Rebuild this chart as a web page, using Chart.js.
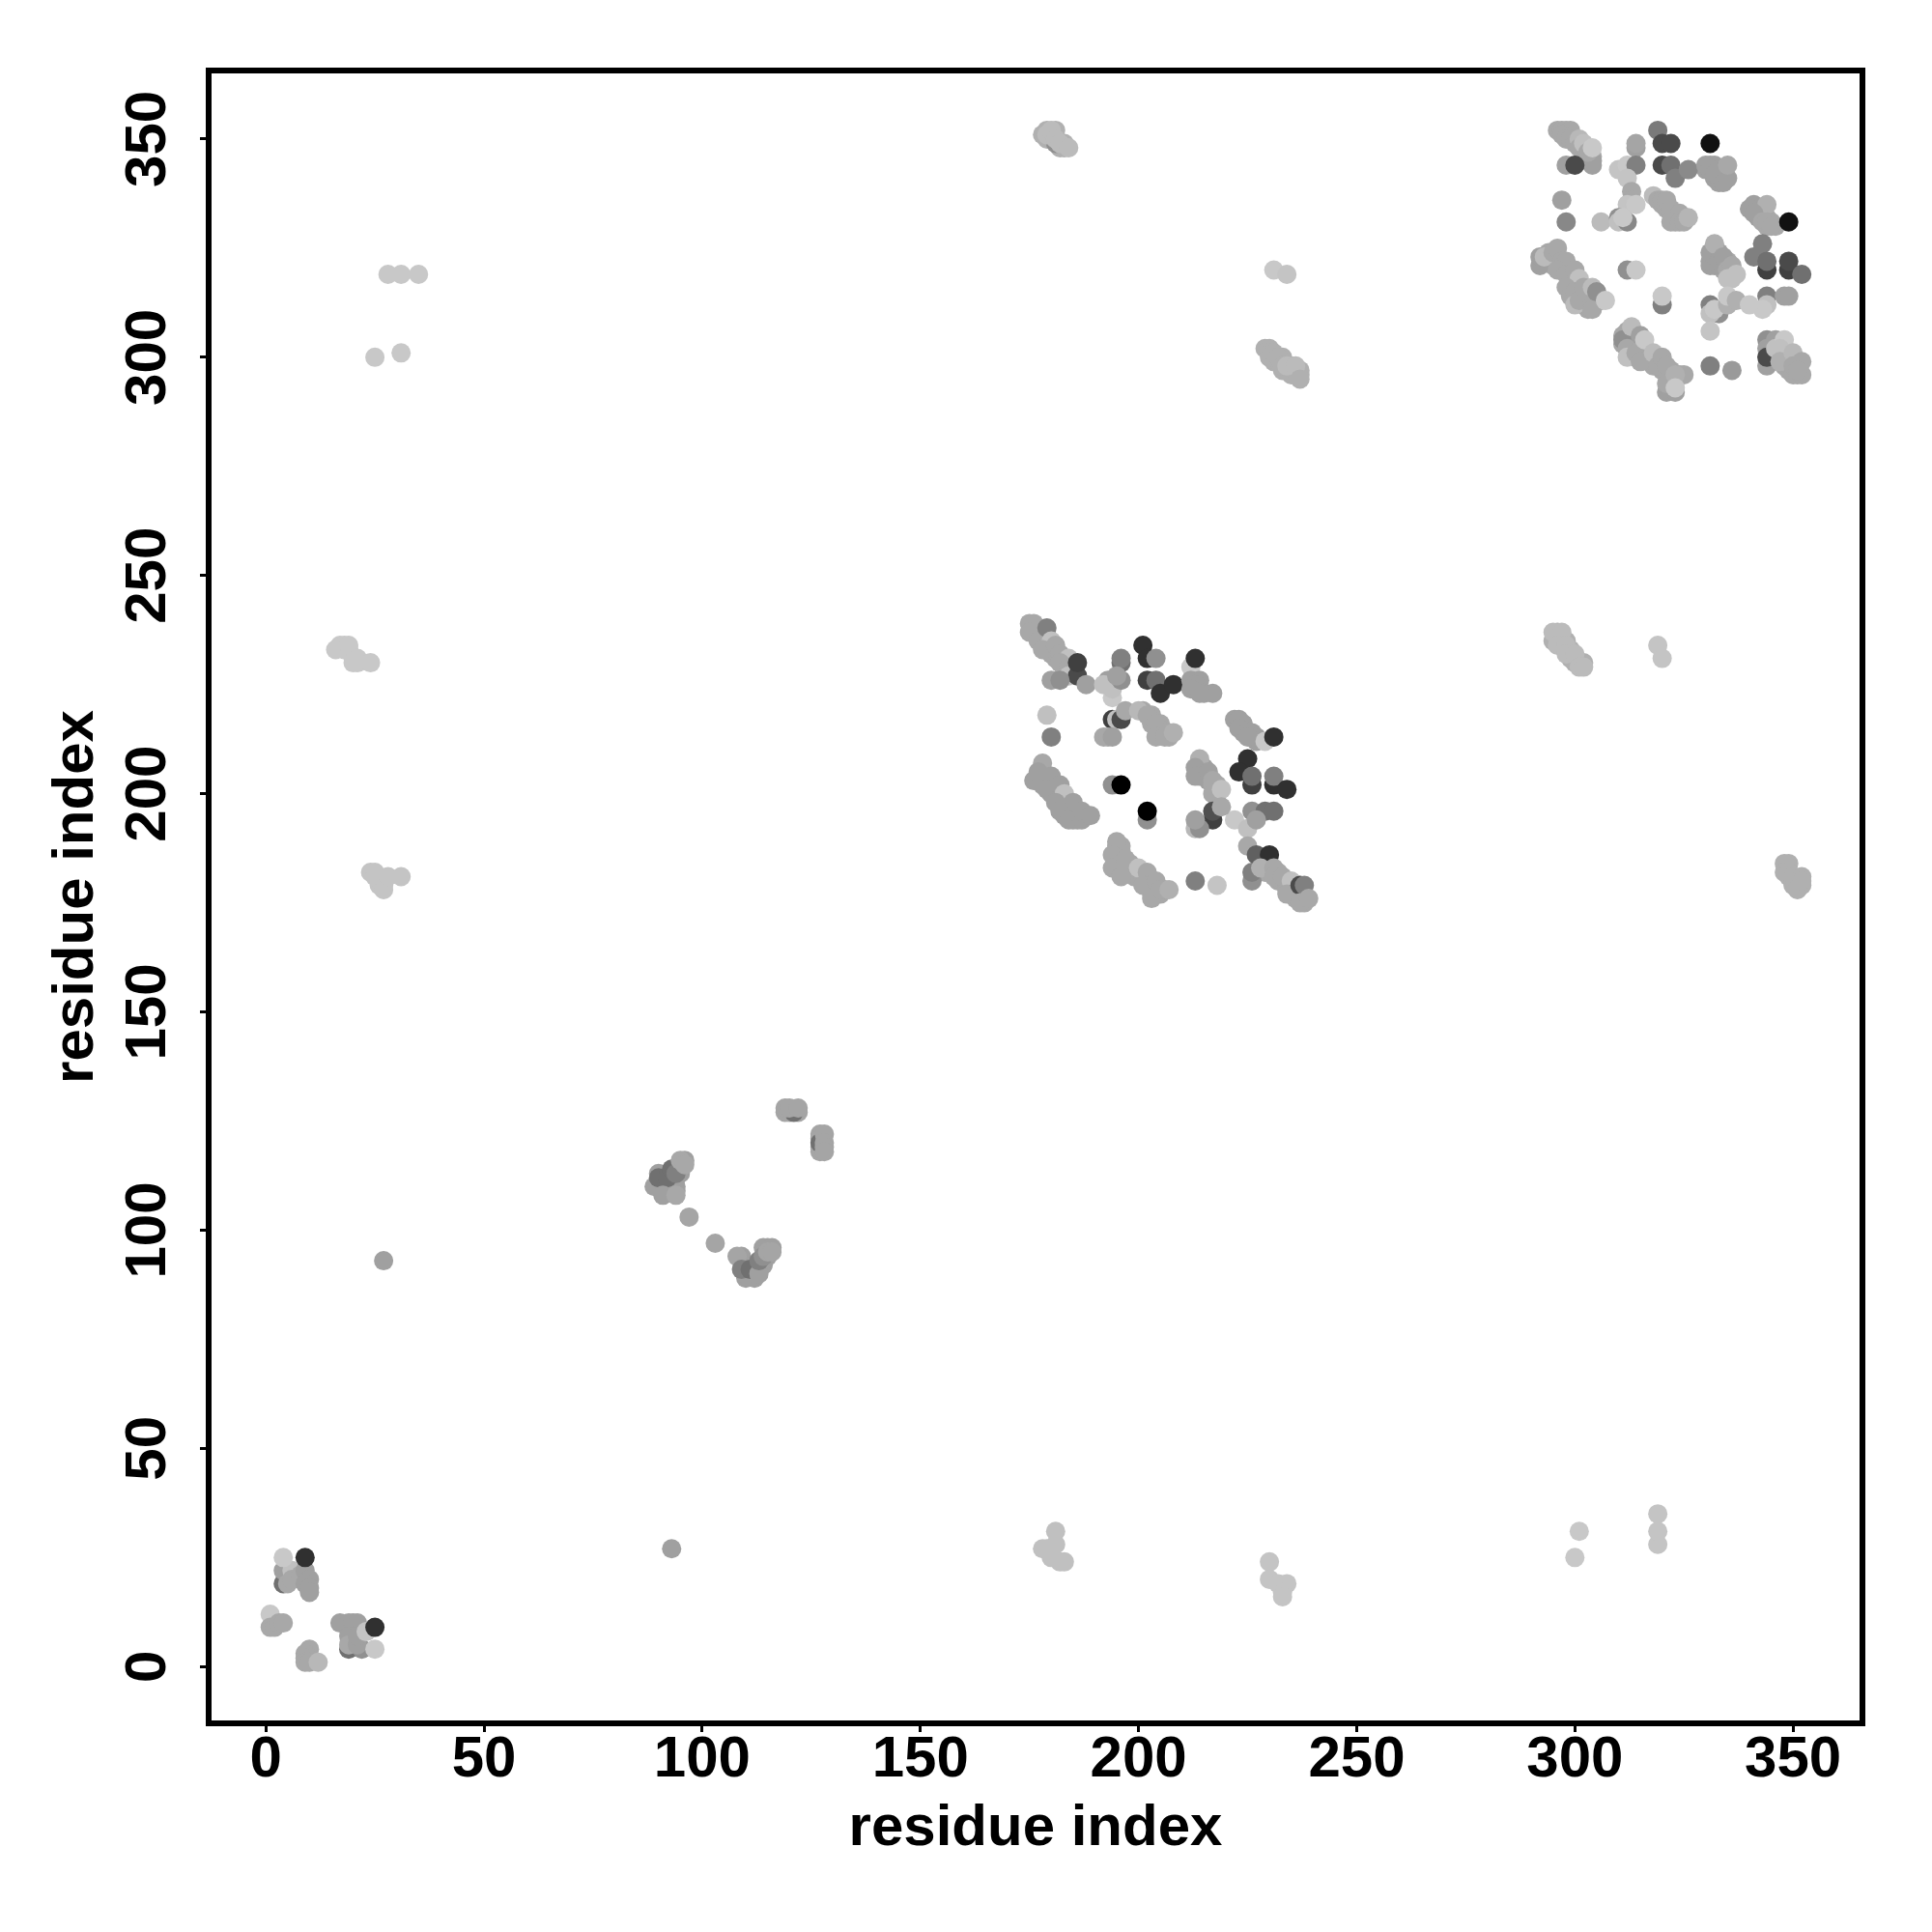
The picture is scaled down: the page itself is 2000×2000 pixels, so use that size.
<!DOCTYPE html>
<html lang="en">
<head>
  <meta charset="utf-8">
  <title>residue contacts</title>
  <script src="https://cdn.jsdelivr.net/npm/chart.js"></script>
  <style>
    body { margin: 0; background: #fff; }
  </style>
</head>
<body>
<canvas id="contactChart" width="2000" height="2000"></canvas>

<script>
// tick labels
const tickValues = [0, 50, 100, 150, 200, 250, 300, 350];
const axisLabel = 'residue index';

// each contact: [residue x, residue y, gray level]
// mid gray contacts packed inside the bands, these go underneath the rest
const bandFill = [
  [178,351,176],[179,352,176],[181,352,176],[179,350,176],[180,350,176],[182,348,176],[183,348,176],[183,349,176],
  [229,302,176],[230,302,176],[231,299,176],[232,299,176],[233,300,176],[233,297,176],[234,297,176],[235,297,176],[235,296,176],[235,298,176],[236,297,176],[237,296,176],[237,297,176],
  [296,237,176],[296,236,176],[295,235,176],[296,235,176],[297,235,176],[298,235,176],[299,233,176],[299,231,176],[300,231,176],[300,230,176],[301,230,176],[302,230,176],
  [349,184,176],[349,181,176],[350,180,176],[351,180,176],[350,179,176],[351,179,176],[352,179,176],
  [26,180,196],[27,180,196],[26,179,196],[27,179,196],[17,234,200],[18,234,200],[19,233,200],[20,231,200],[21,230,200],
  [90,110,160],[91,110,160],[92,109,160],[93,109,160],[92,110,160],[94,110,160],[94,109,160],[93,111,160],[93,112,160],[94,112,160],[95,113,160],[95,114,160],[95,115,160],[96,116,160],
  [109,93,160],[109,94,160],[110,92,160],[111,90,160],[112,89,160],[111,92,160],[112,92,160],[113,92,160],[114,92,160],[114,93,160],[115,94,160],[114,96,160],[115,96,160],[116,96,160],
  [119,127,165],[120,127,165],[122,127,165],[127,122,165],[127,121,165],[127,119,165],[127,118,165],
  [195,188,168],[196,188,168],[196,187,168],[195,185,168],[195,184,168],[196,184,168],[197,183,168],[198,184,168],[198,182,168],[199,181,168],[199,183,168],[200,181,168],[201,181,168],[202,180,168],[203,180,168],[203,179,168],[204,178,168],[203,177,168],[204,177,168],[205,177,168],[206,178,168],
  [178,205,160],[178,204,160],[178,202,160],[179,203,160],[180,202,160],[180,200,160],[181,201,160],[181,200,160],[182,199,160],[183,198,160],[183,197,160],[184,197,160],[184,196,160],[185,196,160],[185,195,160],[186,195,160],[186,196,160],[187,195,160],[188,195,160],[183,195,160],[186,194,160],[185,194,160],
  [229,184,168],[229,182,168],[230,183,168],[232,182,168],[232,180,168],[233,180,168],[234,179,168],[234,178,168],[235,178,168],[236,177,168],[236,176,168],[238,176,168],[238,175,168],[237,177,168],
  [176,238,168],[177,237,168],[177,238,168],[178,236,168],[178,235,168],[179,234,168],[180,233,168],[180,232,168],[181,232,168],[181,231,168],[182,231,168],[183,230,168],[183,229,168],[184,230,168],[185,228,168],[183,228,168],[184,228,168],
  [201,219,168],[203,217,168],[203,218,168],[205,215,168],[205,216,168],[205,214,168],[207,213,168],[207,214,168],[203,216,168],
  [214,206,160],[214,204,160],[215,204,160],[215,206,160],[216,203,160],[217,202,168],[218,202,168],[218,201,168],[218,200,168],[214,205,160],
  [224,216,160],[224,214,160],[226,214,160],[227,212,160],[227,213,160],
  [311,303,168],[311,305,168],[312,304,168],[312,306,168],[313,303,168],[313,305,168],[314,303,168],[314,304,168],[314,300,168],[316,301,168],[316,300,168],[317,300,168],[317,299,168],[318,299,168],[318,298,168],[320,297,168],[320,298,168],[321,297,168],[322,297,168],[322,295,168],[322,293,168],[324,296,168],
  [293,322,168],[294,322,168],[294,324,168],[295,321,168],[295,323,168],[296,322,168],[297,320,168],[299,318,168],[299,320,168],[300,317,168],[301,316,168],[301,315,168],[302,314,168],[302,312,168],[303,315,168],[303,313,168],[303,311,168],[303,312,168],[305,313,168],[305,314,168],[306,313,168],
  [320,335,168],[321,334,168],[322,333,168],[323,333,168],[323,332,168],[323,331,168],[325,332,168],
  [332,324,160],[332,323,160],[332,321,160],[333,324,160],[334,321,168],[334,320,168],[335,322,168],[335,319,168],[336,320,168],[333,321,160],
  [342,334,160],[342,332,160],[342,333,160],[343,333,160],[344,332,168],[345,331,168],[344,330,168],[346,330,168],
  [330,343,160],[331,344,160],[332,344,160],[333,342,160],[334,342,160],[332,341,160],[333,340,160],
  [299,351,168],[300,350,168],[301,349,168],[302,348,168],[303,346,168],
  [346,300,168],[347,300,168],[348,299,168],[348,298,168],[349,299,168],[349,297,168],[350,296,168],[351,296,168],[351,299,168],[349,300,168],[348,302,168]
];
const cornerSW = [
  [4,19,112],[4,22,160],[5,19,168],[6,22,192],[4,25,200],[6,20,168],[8,21,168],[9,22,160],[10,20,160],[9,19,160],[10,18,160],[10,17,160],[9,25,48],
  [1,12,200],[1,9,168],[2,9,168],[3,10,168],[4,10,168],
  [10,4,168],[9,3,168],[9,2,168],[9,1,168],[10,1,168],[12,1,184],
  [19,4,112],[22,4,144],[17,10,160],[19,10,160],[20,10,160],[21,10,160],[19,7,160],[19,5,168],[21,5,160],[21,7,160],[23,8,196],[25,9,48],[25,4,200]
];
const offDiagLow = [
  [93,27,160],[178,27,192],[179,27,192],[181,31,192],[181,28,192],[180,25,192],[182,24,192],[183,24,192],
  [230,24,196],[230,20,196],[232,19,196],[234,19,196],[233,17,196],[233,16,196],
  [300,25,200],[301,31,200],[319,28,196],[319,31,196],[319,35,196]
];
const offDiagLeft = [
  [27,93,160],[28,319,200],[31,319,200],[35,319,200],[25,300,200],[31,301,200],
  [16,233,200],[18,233,200],[19,234,200],[20,230,200],[21,231,200],[24,230,200],
  [24,182,196],[25,182,196],[25,181,196],[27,178,196],[28,181,196],[31,181,196]
];
const helixPairs = [
  [89,110,160],[90,113,160],[90,112,112],[92,112,112],[93,114,112],[91,108,160],[94,113,128],[94,108,168],[95,116,168],[96,115,168],
  [97,103,165],[103,97,165],
  [108,94,165],[110,89,160],[110,90,160],[109,91,128],[111,91,112],[113,90,160],[113,93,128],[114,94,144],[115,95,165],[116,95,165],
  [121,127,112],[119,128,165],[120,128,165],[122,128,165],
  [127,120,112],[128,122,165],[128,120,165],[128,119,165],[128,118,165]
];
const centerBlock = [
  [179,236,112],[175,239,168],[176,239,168],[175,237,168],[177,235,168],[179,238,128],[180,235,192],[178,233,168],[181,234,168],[182,232,168],[184,231,192],[182,230,168],[184,229,168],[184,227,192],
  [186,227,74],[186,230,64],[180,226,160],[182,226,144],[188,225,160],
  [196,230,112],[196,231,128],[201,234,48],[202,231,48],[204,231,144],
  [202,226,64],[204,226,112],[205,223,48],[208,225,48],
  [212,229,200],[213,231,48],[212,226,160],[214,226,160],[213,225,160],[212,224,160],[215,223,160],[217,223,160],[214,223,160],
  [193,226,160],[192,225,192],[194,222,200],[194,224,192],[196,226,144],[195,227,160],
  [179,218,192],[180,213,128],
  [194,217,64],[195,217,192],[196,217,74],[197,219,168],[192,213,168],[193,213,168],[194,213,160],
  [200,219,184],[202,218,168],[204,216,168],[206,214,168],[204,213,168],[206,213,168],[208,214,176],
  [222,217,160],[223,217,160],[223,215,160],[225,214,160],[226,213,160],[225,213,160],[229,212,200],[231,213,48],
  [225,208,48],[223,205,48],[226,202,64],[226,204,112],[231,202,48],[231,204,128],[234,201,48],
  [226,196,144],[229,196,112],[231,196,112],[222,194,200],[225,192,192],[227,194,160],
  [214,208,176],[213,206,160],[213,204,160],[216,205,160],[217,203,168],[217,200,168],[219,201,192],
  [217,194,64],[217,196,80],[219,197,168],[213,192,184],[214,192,144],[213,194,160],
  [194,202,144],[196,202,0],[202,194,144],[202,196,0],
  [176,203,160],[178,207,168],[177,205,160],[180,204,160],[179,201,160],[182,202,160],[183,200,192],[181,198,160],[185,198,160],[182,196,160],[184,194,160],[187,194,160],[187,196,160],[189,195,160],
  [195,189,168],[194,186,168],[194,183,168],[197,185,168],[196,181,168],[200,183,192],[202,182,168],[201,179,168],[203,176,168],[204,180,168],[205,178,168],[207,178,176],
  [213,180,128],[218,179,196],
  [225,188,168],[226,180,144],[226,182,128],[228,185,168],[227,186,96],[230,186,48],[228,183,176],[231,183,168],[231,181,168],[233,181,168],[235,180,192],[234,177,168],[237,179,74],[238,179,128],[237,175,168],[239,176,168]
];
const offDiagHigh = [
  [181,349,144],[179,351,187],[180,352,187],[181,350,187],[182,349,187],[184,348,187],
  [231,320,200],[234,319,196],
  [230,301,176],[230,300,176],[231,301,176],[232,300,176],[233,298,176],[234,298,187],[236,298,187],[237,295,176],
  [295,237,187],[297,237,187],[296,234,187],[298,234,187],[298,232,187],[300,232,187],[301,229,187],[302,229,187],
  [319,234,196],[320,231,196],
  [348,184,176],[348,182,176],[349,182,176],[350,181,176],[351,178,176],[352,181,176],[352,180,176]
];
const cornerNE = [
  [296,352,168],[297,352,168],[298,352,168],[299,352,168],[297,351,168],[298,350,168],[299,350,168],[300,349,168],[301,350,184],[301,348,168],[302,346,168],[304,346,168],[304,345,160],[304,344,160],[302,349,192],[303,347,168],[304,348,200],
  [298,344,160],[300,344,74],
  [314,348,160],[314,349,165],[319,352,122],[320,349,74],[322,349,74],[331,349,17],
  [310,343,196],[312,344,200],[314,344,128],[320,344,74],[322,344,112],[323,341,128],[326,343,138],
  [330,344,160],[331,343,160],[332,342,160],[333,341,160],[334,340,160],[335,341,160],[335,344,168],
  [312,341,196],[313,338,168],[313,336,168],[312,335,196],[314,335,200],
  [318,337,187],[319,336,168],[320,336,168],[321,336,168],[322,334,168],[324,333,168],[322,331,168],[324,331,168],[325,331,168],[326,332,181],
  [297,336,160],[298,331,136],[306,331,187],[310,332,144],[310,331,192],[312,331,136],[311,332,200],
  [341,335,160],[344,335,176],[340,334,160],[341,333,160],[343,331,168],[344,331,168],[345,330,168],[349,331,17],
  [343,326,128],[341,323,128],[344,320,64],[344,322,112],[349,320,64],[349,322,74],[352,319,112],
  [344,314,128],[348,314,160],[349,314,160],
  [331,321,160],[331,322,160],[331,324,160],[332,326,176],[333,322,160],[334,323,160],[335,320,168],[336,321,168],[335,318,192],[336,318,192],[337,319,192],
  [331,312,128],[333,310,144],[331,310,192],[332,311,200],[335,312,176],[335,314,200],[337,313,176],[344,312,192],[343,311,200],[340,312,200],
  [331,306,196],[331,298,128],[336,297,154],
  [344,298,160],[344,304,144],[344,302,160],[344,300,74],[346,304,160],[346,302,192],[348,304,200],[347,302,192],[347,299,176],[350,301,184],[350,298,168],[352,299,168],[352,296,168],[351,297,168],
  [292,321,160],[292,323,160],[293,323,187],[295,324,168],[296,325,168],[297,322,168],[298,322,168],[296,320,168],[298,319,168],[300,320,168],[301,318,192],
  [298,316,168],[299,314,168],[300,315,168],[300,312,187],[301,313,168],[302,316,168],[304,316,187],[304,312,168],[304,311,168],[305,315,144],[307,313,200],
  [312,320,144],[314,320,200],[320,312,128],[320,314,200],
  [311,304,144],[313,307,187],[312,302,168],[312,300,192],[314,301,168],[315,305,160],[316,304,200],[315,299,168],[318,301,187],
  [319,298,168],[320,300,168],[321,298,168],[321,292,160],[323,292,160],[321,294,168],[325,296,168],[323,296,176],[323,293,200]
];

const contacts = [...bandFill, ...cornerSW, ...offDiagLow, ...offDiagLeft, ...helixPairs, ...centerBlock, ...offDiagHigh, ...cornerNE];

const frame = {
  id: 'frame',
  afterDraw(chart) {
    const { ctx, chartArea: a } = chart;
    ctx.save();
    ctx.strokeStyle = '#000';
    ctx.lineWidth = 6;
    ctx.strokeRect(a.left, a.top, a.right - a.left, a.bottom - a.top);
    ctx.restore();
  }
};

const tickFont = { family: '"Liberation Sans"', size: 60, weight: 'bold' };
const titleFont = { family: '"Liberation Sans"', size: 60, weight: 'bold' };

new Chart(document.getElementById('contactChart'), {
  type: 'scatter',
  data: {
    datasets: [{
      data: contacts.map(c => ({ x: c[0], y: c[1] })),
      pointBackgroundColor: contacts.map(c => `rgb(${c[2]},${c[2]},${c[2]})`),
      pointBorderWidth: 0,
      pointRadius: 10
    }]
  },
  plugins: [frame],
  options: {
    responsive: false,
    animation: false,
    layout: { padding: { left: 0, right: 72, top: 73, bottom: 0 } },
    plugins: { legend: { display: false }, tooltip: { enabled: false } },
    scales: {
      x: {
        type: 'linear',
        min: -13.1,
        max: 365.9,
        afterFit: s => { s.height = 216; },
        afterBuildTicks: s => { s.ticks = tickValues.map(v => ({ value: v })); },
        border: { display: false },
        grid: { drawOnChartArea: false, tickLength: 9, tickWidth: 3, tickColor: '#000' },
        ticks: { color: '#000', font: tickFont, padding: -7, maxRotation: 0, autoSkip: false },
        title: { display: true, text: axisLabel, color: '#000', font: titleFont, padding: { top: 0, bottom: 71 } }
      },
      y: {
        type: 'linear',
        min: -13,
        max: 365.7,
        afterFit: s => { s.width = 216; },
        afterBuildTicks: s => { s.ticks = tickValues.map(v => ({ value: v })); },
        border: { display: false },
        grid: { drawOnChartArea: false, tickLength: 9, tickWidth: 3, tickColor: '#000' },
        ticks: { color: '#000', font: tickFont, padding: 2, minRotation: 90, maxRotation: 90, crossAlign: 'center', autoSkip: false },
        title: { display: true, text: axisLabel, color: '#000', font: titleFont, padding: { top: 43, bottom: 0 } }
      }
    }
  }
});
</script>
</body>
</html>
